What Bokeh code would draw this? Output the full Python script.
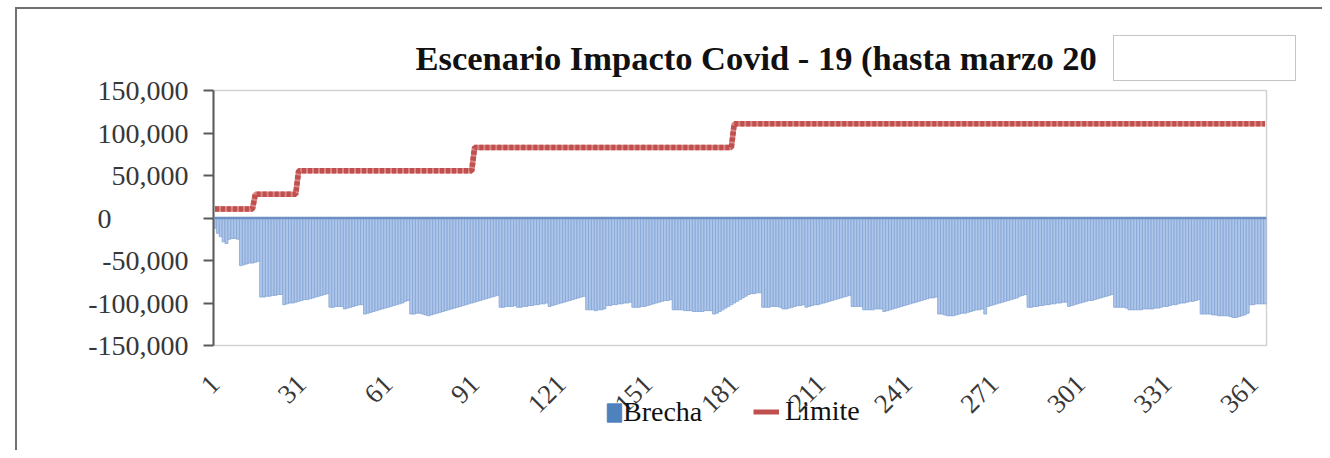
import math
from bokeh.plotting import figure
from bokeh.layouts import column
from bokeh.models import (Range1d, FixedTicker, CustomJSTickFormatter, Legend, LegendItem,
                          Span, ColumnDataSource)
from bokeh.embed import file_html
from bokeh.resources import INLINE

# ---------------- data ----------------
title_text = "Escenario Impacto Covid - 19 (hasta marzo 20"
series_names = ["Brecha", "Limite"]

# Brecha, in thousands, day 1 .. 365
brecha_miles = [
    -12, -18, -22, -28, -30, -25, -24, -24, -25,
    -56, -55, -54, -53, -53, -52, -51,
    -93, -93, -92, -92, -91, -91, -90, -90,
    -102, -101, -100, -100, -99, -98, -97, -96, -96, -95, -94, -93, -92, -91, -90, -89,
    -105, -105, -104, -104, -104,
    -107, -106, -105, -104, -103, -102, -102,
    -113, -112, -111, -110, -109, -108, -107, -106, -105, -104, -103, -102, -101, -100, -98, -97,
    -113, -113, -112, -112, -113, -114,
    -115, -114, -113, -112, -111, -110, -109, -108, -107, -106, -105, -104, -103, -102, -101,
    -100, -99, -98, -97, -96, -95, -94, -93, -92, -91,
    -105, -105, -104, -104, -104, -103,
    -105, -105, -104, -104, -103, -103, -102, -102, -101, -101, -100,
    -104, -103, -102, -101, -100, -99, -98, -97, -96, -95, -94, -93, -92,
    -108, -108, -108, -109, -108, -108, -107,
    -103, -103, -102, -102, -101, -101, -100, -100, -99,
    -105, -105, -105, -104,
    -104, -103, -102, -101, -100, -99, -98, -97, -97, -96,
    -108, -108, -108, -108, -109, -109, -109,
    -110, -110, -110, -110, -109, -109, -109,
    -113, -112, -110, -108, -106, -104, -102, -100, -98, -96, -94, -92, -90, -89,
    -89, -88, -88,
    -105, -105, -105, -104, -104, -104, -105,
    -107, -107, -106, -105, -104, -103, -103, -102,
    -105, -104, -103, -102, -102, -101, -100, -99, -98, -97, -96, -95, -94, -93, -92, -91,
    -104, -104, -104, -104,
    -108, -108, -108, -108, -107, -107, -107,
    -110, -109, -108, -107, -106, -105, -104, -103, -102, -101, -100, -99, -98, -97, -96,
    -95, -94, -94, -93,
    -113, -113, -114, -115,
    -115, -115, -114, -113, -112, -112, -111, -110, -109, -108, -108, -107,
    -113, -104, -103, -102, -101, -100, -99, -98, -97, -96, -95, -94, -92, -91,
    -90,
    -105, -105, -104, -104, -103, -103, -102, -102, -101, -101, -100, -100, -99, -99,
    -104, -103, -102, -101, -100, -99, -98, -97, -97, -96, -95, -94, -93, -92, -91, -90,
    -105, -105, -105, -105, -106,
    -108, -108, -108, -108, -108, -107, -107, -107, -107,
    -106, -106, -105, -104, -104, -103, -102, -102, -101, -100, -100, -99, -98, -98, -97, -96,
    -113, -113, -113, -113, -114, -114,
    -115, -115, -115, -115, -116,
    -117, -117, -116, -115, -114, -112,
    -102, -102, -101, -101, -101, -101,
]

# Limite: (value, number of days) runs
limite_runs = [(10500, 14), (28000, 15), (55500, 61), (83000, 90), (111000, 185)]

xticks = [1, 31, 61, 91, 121, 151, 181, 211, 241, 271, 301, 331, 361]
yticks = [-150000, -100000, -50000, 0, 50000, 100000, 150000]

# ---------------- build ----------------
brecha = [v * 1000 for v in brecha_miles]
limite = []
for val, n in limite_runs:
    limite += [val] * n
n_days = min(len(brecha), len(limite))
days = list(range(1, n_days + 1))
src = ColumnDataSource(dict(day=days, brecha=brecha[:n_days], limite=limite[:n_days]))

W, H = 1322, 450
FL, FR, FT, FB = 213, 1266, 90, 345   # frame edges in page pixels

# outer frame + white box (page decoration drawn behind the transparent border area)
g = "linear-gradient({c},{c})"
deco = {
    "background-image": ", ".join([g.format(c="#707070"), g.format(c="#707070"),
                                   g.format(c="#C4C4C4"), g.format(c="#C4C4C4"),
                                   g.format(c="#C4C4C4"), g.format(c="#C4C4C4")]),
    "background-size": "2px 100%, 100% 2px, 182px 1px, 182px 1px, 1px 45px, 1px 46px",
    "background-position": "15px 7px, 15px 7px, 1113px 35px, 1113px 80px, 1113px 35px, 1295px 35px",
    "background-repeat": "no-repeat",
}

p = figure(width=W, height=H, output_backend="svg", toolbar_location=None,
           x_range=Range1d(0.5, 365.5), y_range=Range1d(-150000, 150000),
           min_border_left=FL, min_border_right=W - FR, min_border_top=FT, min_border_bottom=H - FB,
           background_fill_color="white", border_fill_color=None, styles=deco)
p.xgrid.visible = False
p.ygrid.visible = False
p.outline_line_color = "#D2D2D2"
p.outline_line_width = 1.5

SERIF = "Liberation Serif"
TICK_COL = "#383838"

# title
p.title.text = title_text
p.title.align = "left"
p.title.offset = 202
p.title.text_font = SERIF
p.title.text_font_style = "bold"
p.title.text_font_size = "34.5px"
p.title.text_color = "#111111"
p.title.standoff = 28

# bars
p.vbar(x="day", top="brecha", bottom=0, width=1.0, source=src,
       fill_color="#AEC6E9", line_color="#84A4D5", line_width=0.8)

# limit line (dotted look)
p.line(x="day", y="limite", source=src, line_color="#D98585", line_width=5.5)
p.line(x="day", y="limite", source=src, line_color="#C0504D", line_width=5.5, line_dash="4 2")

p.add_layout(Span(location=0, dimension="width", line_color="#6E8FC4", line_width=2.5))

# y axis
ya = p.yaxis[0]
ya.ticker = FixedTicker(ticks=yticks)
ya.formatter = CustomJSTickFormatter(code="""
if (tick == 0) { return '0' + '\\u00a0'.repeat(11); }
var s = String(Math.abs(Math.round(tick))).replace(/\\B(?=(\\d{3})+(?!\\d))/g, ',');
return (tick < 0 ? '-' : '') + s;
""")
ya.major_label_text_font = SERIF
ya.major_label_text_font_size = "28px"
ya.major_label_text_color = TICK_COL
ya.axis_line_color = "#5a5a5a"
ya.axis_line_width = 2
ya.major_tick_line_color = "#5a5a5a"
ya.major_tick_line_width = 2
ya.major_tick_out = 10
ya.major_tick_in = 0
ya.minor_tick_line_color = None
ya.major_label_standoff = 15

# x axis
xa = p.xaxis[0]
xa.ticker = FixedTicker(ticks=xticks)
xa.major_label_orientation = math.pi / 4
xa.major_label_text_font = SERIF
xa.major_label_text_font_size = "27px"
xa.major_label_text_color = TICK_COL
xa.axis_line_color = None
xa.major_tick_line_color = None
xa.minor_tick_line_color = None
xa.major_label_standoff = 28

# ---------------- legend (transparent strip laid over the bottom area) ----------------
# the strip's frame is aligned by the column layout with the main frame (left edge at FL)
LH = 34
LY = 394   # page y of the legend strip top
lf = figure(width=W, height=LH, output_backend="svg", toolbar_location=None,
            x_range=Range1d(0, 1), y_range=Range1d(0, 1),
            x_axis_type=None, y_axis_type=None,
            min_border_left=0, min_border_right=0, min_border_top=0, min_border_bottom=0,
            background_fill_color=None, border_fill_color=None, outline_line_color=None,
            margin=(LY - H, 0, 0, 0))
lf.xgrid.visible = False
lf.ygrid.visible = False
# legend key renderers: their data sit outside the strip's visible range
dummy_bar = lf.rect(x=[5], y=[5], width=1, height=1, fill_color="#4F81BD", line_color="#4F81BD")
dummy_line = lf.line(x=[5, 6], y=[5, 5], line_color="#C0504D", line_width=5)

common = dict(orientation="horizontal", padding=0, margin=0, border_line_color=None,
              background_fill_alpha=0, label_text_font=SERIF, label_text_font_size="28px",
              label_text_color="#111111", spacing=0)
leg1 = Legend(items=[LegendItem(label=series_names[0], renderers=[dummy_bar])],
              location=(605 - FL, 0), glyph_width=18, glyph_height=23, label_standoff=0, **common)
leg2 = Legend(items=[LegendItem(label=series_names[1], renderers=[dummy_line])],
              location=(753 - FL, 1), glyph_width=26, glyph_height=17, label_standoff=6, **common)
lf.add_layout(leg1)
lf.add_layout(leg2)

layout = column(p, lf, spacing=0)
open("out.html", "w").write(file_html(layout, INLINE))
